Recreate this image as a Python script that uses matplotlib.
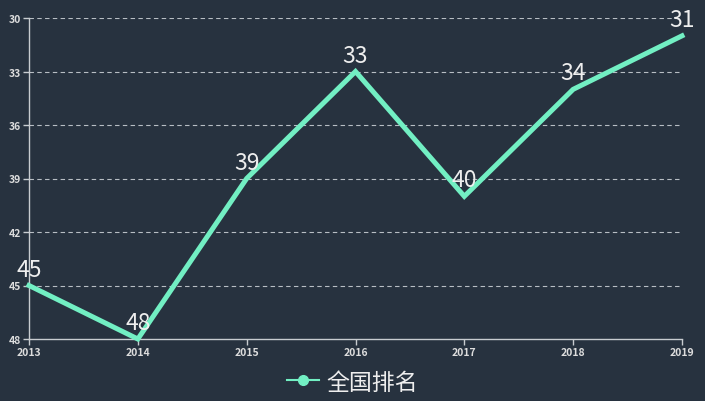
import matplotlib
matplotlib.use('Agg')
import matplotlib.pyplot as plt
from matplotlib.lines import Line2D

plt.rcParams['font.family'] = ['Noto Sans CJK SC', 'DejaVu Sans']

years = ['2013', '2014', '2015', '2016', '2017', '2018', '2019']
ranks = [45, 48, 39, 33, 40, 34, 31]
y_ticks = [30, 33, 36, 39, 42, 45, 48]

BG = '#27323f'
LINE = '#72efc3'
AXIS = '#c8ccd0'

fig = plt.figure(figsize=(7.05, 4.02), dpi=100, facecolor=BG)
ax = fig.add_axes([29 / 705, 1 - 340 / 402, 653 / 705, 321 / 402])
ax.set_facecolor(BG)

x = list(range(len(years)))
ax.plot(x, ranks, color=LINE, lw=3.6, solid_joinstyle='miter', zorder=3, clip_on=False)
for xi, r in zip(x, ranks):
    ax.annotate(str(r), (xi, r), xytext=(0, 3.5), textcoords='offset points',
                ha='center', va='bottom', color='#eeeeee', fontsize=16.5, zorder=4)

ax.set_xlim(0, len(years) - 1)
ax.set_ylim(48, 30)
ax.set_xticks(x)
ax.set_xticklabels(years)
ax.set_yticks(y_ticks)
for yt in y_ticks[:-1]:
    ax.axhline(yt, color='#b8bec4', lw=0.8, ls=(0, (4, 3)), zorder=1)

for side in ['top', 'right']:
    ax.spines[side].set_visible(False)
for side in ['left', 'bottom']:
    ax.spines[side].set_color(AXIS)
    ax.spines[side].set_linewidth(1)
ax.tick_params(colors=AXIS, labelcolor='#dddddd', labelsize=7.5, length=4, width=1, pad=2)
for lbl in ax.get_xticklabels() + ax.get_yticklabels():
    lbl.set_fontweight('bold')

handle = Line2D([], [], color=LINE, lw=1.5, marker='o', markersize=7,
                markerfacecolor=LINE, markeredgecolor=LINE)
fig.legend([handle], ['全国排名'], loc='center', bbox_to_anchor=(0.5, 1 - 383 / 402),
           frameon=False, fontsize=16.5, labelcolor='#eeeeee', handlelength=1.4,
           handletextpad=0.3)

fig.savefig('out.png', dpi=100, facecolor=BG)
